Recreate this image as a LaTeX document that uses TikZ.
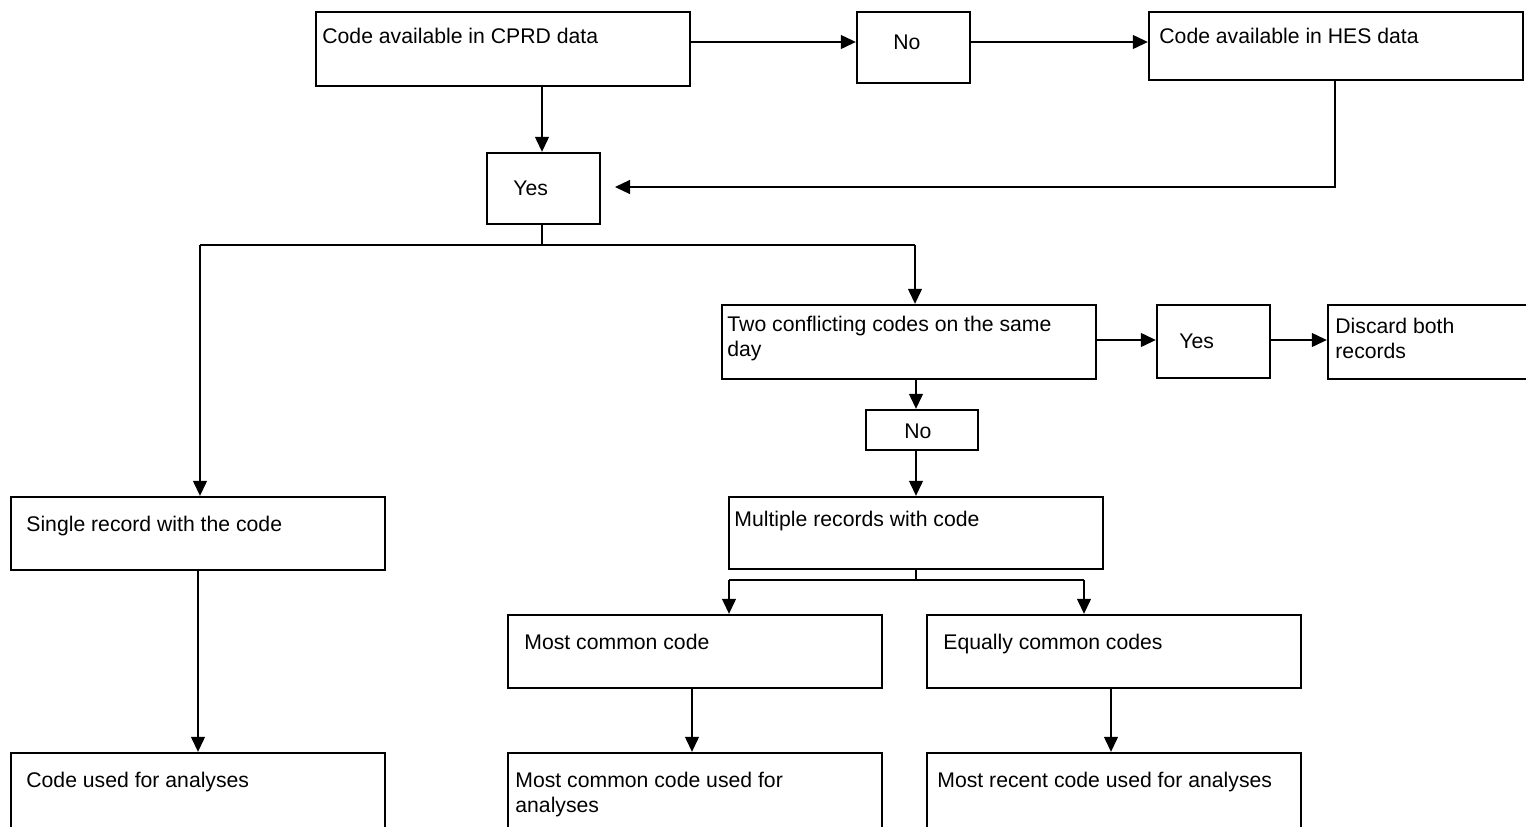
\documentclass[tikz,border=0pt]{standalone}
\usepackage{fontspec}
\setmainfont{Liberation Sans}
\usetikzlibrary{arrows.meta,fit}
\begin{document}
\begin{tikzpicture}[x=0.5pt,y=-0.5pt,
  box/.style={draw, line width=1.2pt, inner sep=0pt},
  txt/.style={anchor=base west, inner sep=0pt, align=left,
    font=\fontsize{10.6}{12.5}\selectfont},
  line/.style={line width=0.6pt},
  arr/.style={line width=0.6pt, -{Triangle[length=7.5pt,width=7pt]}}]
\useasboundingbox (0,0) rectangle (1526,826);
\clip (0,0) rectangle (1526,826);
\fill[white] (0,0) rectangle (1526,826);

% boxes
\node[box, fit={(316,12) (690,86)}] (cprd) {};
\node[box, fit={(857,12) (970,83)}] (no1) {};
\node[box, fit={(1149,12) (1523,80)}] (hes) {};
\node[box, fit={(487,153) (600,224)}] (yes1) {};
\node[box, fit={(722,305) (1096,379)}] (conf) {};
\node[box, fit={(1157,305) (1270,378)}] (yes2) {};
\node[box, fit={(1328,305) (1545,379)}] (disc) {};
\node[box, fit={(866,410) (978,450)}] (no2) {};
\node[box, fit={(11,497) (385,570)}] (single) {};
\node[box, fit={(729,497) (1103,569)}] (multi) {};
\node[box, fit={(508,615) (882,688)}] (common) {};
\node[box, fit={(927,615) (1301,688)}] (equal) {};
\node[box, fit={(11,753) (385,840)}] (used) {};
\node[box, fit={(508,753) (882,840)}] (cused) {};
\node[box, fit={(927,753) (1301,840)}] (rused) {};

% texts (base anchor sits on the last line)
\node[txt] (cprdT) at (322,43) {Code available in CPRD data};
\node[txt] (no1T) at (893,49) {No};
\node[txt] (hesT) at (1159,43) {Code available in HES data};
\node[txt] (yes1T) at (513,195) {Yes};
\node[txt] (confT) at (727,356) {Two conflicting codes on the same\\day};
\node[txt] (yes2T) at (1179,348) {Yes};
\node[txt] (discT) at (1335,358) {Discard both\\records};
\node[txt] (no2T) at (904,438) {No};
\node[txt] (singleT) at (26,531) {Single record with the code};
\node[txt] (multiT) at (734,526) {Multiple records with code};
\node[txt] (commonT) at (524,649) {Most common code};
\node[txt] (equalT) at (943,649) {Equally common codes};
\node[txt] (usedT) at (26,787) {Code used for analyses};
\node[txt] (cusedT) at (515,812) {Most common code used for\\analyses};
\node[txt] (rusedT) at (937,787) {Most recent code used for analyses};

% helper coordinates
\coordinate (r1) at (0,42);
\coordinate (r2) at (0,187);
\coordinate (r3) at (0,245);
\coordinate (r4) at (0,340);
\coordinate (r5) at (0,580);
\coordinate (hesdrop) at (1335,0);
\coordinate (yesin) at (615,187);
\coordinate (lb) at (200,0);
\coordinate (rb) at (915,0);
\coordinate (ml) at (729,0);
\coordinate (mr) at (1084,0);
\coordinate (c1) at (542,0);
\coordinate (c2) at (916,0);
\coordinate (c3) at (198,0);
\coordinate (c4) at (692,0);
\coordinate (c5) at (1111,0);

% connectors
\draw[arr] (cprd.east |- r1) -- (no1.west |- r1);
\draw[arr] (no1.east |- r1) -- (hes.west |- r1);
\draw[arr] (cprd.south -| c1) -- (yes1.north -| c1);
\draw[arr] (hes.south -| hesdrop) -- (hesdrop |- r2) -- (yesin);
\draw[line] (yes1.south -| c1) -- (c1 |- r3);
\draw[line] (lb |- r3) -- (rb |- r3);
\draw[arr] (lb |- r3) -- (single.north -| lb);
\draw[arr] (rb |- r3) -- (conf.north -| rb);
\draw[arr] (conf.east |- r4) -- (yes2.west |- r4);
\draw[arr] (yes2.east |- r4) -- (disc.west |- r4);
\draw[arr] (conf.south -| c2) -- (no2.north -| c2);
\draw[arr] (no2.south -| c2) -- (multi.north -| c2);
\draw[line] (multi.south -| c2) -- (c2 |- r5);
\draw[line] (ml |- r5) -- (mr |- r5);
\draw[arr] (ml |- r5) -- (common.north -| ml);
\draw[arr] (mr |- r5) -- (equal.north -| mr);
\draw[arr] (single.south -| c3) -- (used.north -| c3);
\draw[arr] (common.south -| c4) -- (cused.north -| c4);
\draw[arr] (equal.south -| c5) -- (rused.north -| c5);
\end{tikzpicture}
\end{document}
